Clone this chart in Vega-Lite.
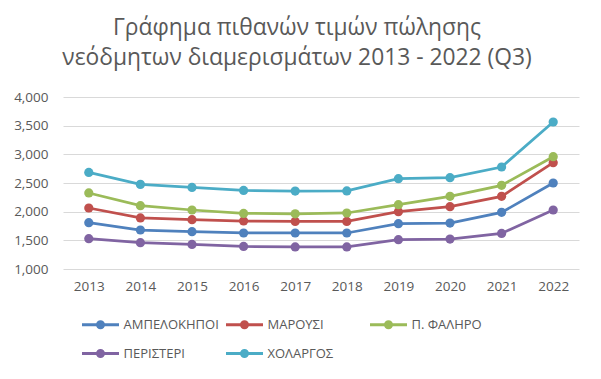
{
  "$schema": "https://vega.github.io/schema/vega-lite/v6.json",
  "width": 516,
  "height": 172,
  "autosize": "none",
  "padding": {"left": 63, "top": 97, "right": 22, "bottom": 110},
  "background": "white",
  "title": {
    "text": ["Γράφημα πιθανών τιμών πώλησης", "νεόδμητων διαμερισμάτων 2013 - 2022 (Q3)"],
    "anchor": "middle",
    "dx": -24,
    "offset": 20,
    "font": "Open Sans",
    "fontSize": 22.8,
    "fontWeight": "normal",
    "color": "#595959",
    "lineHeight": 30
  },
  "data": {
    "values": [
      {"year": "2013", "area": "ΑΜΠΕΛΟΚΗΠΟΙ", "price": 1808},
      {"year": "2014", "area": "ΑΜΠΕΛΟΚΗΠΟΙ", "price": 1680},
      {"year": "2015", "area": "ΑΜΠΕΛΟΚΗΠΟΙ", "price": 1651},
      {"year": "2016", "area": "ΑΜΠΕΛΟΚΗΠΟΙ", "price": 1628},
      {"year": "2017", "area": "ΑΜΠΕΛΟΚΗΠΟΙ", "price": 1628},
      {"year": "2018", "area": "ΑΜΠΕΛΟΚΗΠΟΙ", "price": 1628},
      {"year": "2019", "area": "ΑΜΠΕΛΟΚΗΠΟΙ", "price": 1790},
      {"year": "2020", "area": "ΑΜΠΕΛΟΚΗΠΟΙ", "price": 1802},
      {"year": "2021", "area": "ΑΜΠΕΛΟΚΗΠΟΙ", "price": 1988},
      {"year": "2022", "area": "ΑΜΠΕΛΟΚΗΠΟΙ", "price": 2500},
      {"year": "2013", "area": "ΜΑΡΟΥΣΙ", "price": 2064},
      {"year": "2014", "area": "ΜΑΡΟΥΣΙ", "price": 1890},
      {"year": "2015", "area": "ΜΑΡΟΥΣΙ", "price": 1860},
      {"year": "2016", "area": "ΜΑΡΟΥΣΙ", "price": 1837},
      {"year": "2017", "area": "ΜΑΡΟΥΣΙ", "price": 1830},
      {"year": "2018", "area": "ΜΑΡΟΥΣΙ", "price": 1830},
      {"year": "2019", "area": "ΜΑΡΟΥΣΙ", "price": 2000},
      {"year": "2020", "area": "ΜΑΡΟΥΣΙ", "price": 2087},
      {"year": "2021", "area": "ΜΑΡΟΥΣΙ", "price": 2267},
      {"year": "2022", "area": "ΜΑΡΟΥΣΙ", "price": 2854},
      {"year": "2013", "area": "Π. ΦΑΛΗΡΟ", "price": 2326},
      {"year": "2014", "area": "Π. ΦΑΛΗΡΟ", "price": 2104},
      {"year": "2015", "area": "Π. ΦΑΛΗΡΟ", "price": 2029},
      {"year": "2016", "area": "Π. ΦΑΛΗΡΟ", "price": 1970},
      {"year": "2017", "area": "Π. ΦΑΛΗΡΟ", "price": 1962},
      {"year": "2018", "area": "Π. ΦΑΛΗΡΟ", "price": 1977},
      {"year": "2019", "area": "Π. ΦΑΛΗΡΟ", "price": 2122},
      {"year": "2020", "area": "Π. ΦΑΛΗΡΟ", "price": 2267},
      {"year": "2021", "area": "Π. ΦΑΛΗΡΟ", "price": 2459},
      {"year": "2022", "area": "Π. ΦΑΛΗΡΟ", "price": 2959},
      {"year": "2013", "area": "ΠΕΡΙΣΤΕΡΙ", "price": 1529},
      {"year": "2014", "area": "ΠΕΡΙΣΤΕΡΙ", "price": 1459},
      {"year": "2015", "area": "ΠΕΡΙΣΤΕΡΙ", "price": 1429},
      {"year": "2016", "area": "ΠΕΡΙΣΤΕΡΙ", "price": 1394},
      {"year": "2017", "area": "ΠΕΡΙΣΤΕΡΙ", "price": 1384},
      {"year": "2018", "area": "ΠΕΡΙΣΤΕΡΙ", "price": 1384},
      {"year": "2019", "area": "ΠΕΡΙΣΤΕΡΙ", "price": 1511},
      {"year": "2020", "area": "ΠΕΡΙΣΤΕΡΙ", "price": 1522},
      {"year": "2021", "area": "ΠΕΡΙΣΤΕΡΙ", "price": 1621},
      {"year": "2022", "area": "ΠΕΡΙΣΤΕΡΙ", "price": 2029},
      {"year": "2013", "area": "ΧΟΛΑΡΓΟΣ", "price": 2685},
      {"year": "2014", "area": "ΧΟΛΑΡΓΟΣ", "price": 2476},
      {"year": "2015", "area": "ΧΟΛΑΡΓΟΣ", "price": 2423},
      {"year": "2016", "area": "ΧΟΛΑΡΓΟΣ", "price": 2371},
      {"year": "2017", "area": "ΧΟΛΑΡΓΟΣ", "price": 2360},
      {"year": "2018", "area": "ΧΟΛΑΡΓΟΣ", "price": 2362},
      {"year": "2019", "area": "ΧΟΛΑΡΓΟΣ", "price": 2575},
      {"year": "2020", "area": "ΧΟΛΑΡΓΟΣ", "price": 2593},
      {"year": "2021", "area": "ΧΟΛΑΡΓΟΣ", "price": 2779},
      {"year": "2022", "area": "ΧΟΛΑΡΓΟΣ", "price": 3564}
    ]
  },
  "mark": {"type": "line", "strokeWidth": 2.75, "point": {"filled": true, "size": 85}},
  "encoding": {
    "x": {
      "field": "year",
      "type": "ordinal",
      "scale": {"type": "point", "padding": 0.5},
      "axis": {
        "title": null,
        "labelAngle": 0,
        "domain": false,
        "ticks": false,
        "grid": false,
        "labelPadding": 10,
        "labelFont": "Open Sans",
        "labelFontSize": 13.5,
        "labelColor": "#595959"
      }
    },
    "y": {
      "field": "price",
      "type": "quantitative",
      "scale": {"domain": [1000, 4000], "nice": false, "zero": false},
      "axis": {
        "title": null,
        "values": [1000, 1500, 2000, 2500, 3000, 3500, 4000],
        "format": ",.0f",
        "domain": false,
        "ticks": false,
        "grid": true,
        "gridColor": "#d9d9d9",
        "gridWidth": 1,
        "labelPadding": 15,
        "labelFont": "Open Sans",
        "labelFontSize": 13.5,
        "labelColor": "#595959"
      }
    },
    "color": {
      "field": "area",
      "type": "nominal",
      "scale": {
        "domain": ["ΑΜΠΕΛΟΚΗΠΟΙ", "ΜΑΡΟΥΣΙ", "Π. ΦΑΛΗΡΟ", "ΠΕΡΙΣΤΕΡΙ", "ΧΟΛΑΡΓΟΣ"],
        "range": ["#4F81BD", "#C0504D", "#9BBB59", "#8064A2", "#4BACC6"]
      },
      "legend": {
        "title": null,
        "orient": "none",
        "legendX": 31,
        "legendY": 221,
        "direction": "horizontal",
        "columns": 3,
        "gridAlign": "all",
        "columnPadding": 1,
        "rowPadding": 10,
        "symbolType": "M-3.7,0L3.7,0M-0.6,0A0.6,0.6,0,1,1,0.6,0A0.6,0.6,0,1,1,-0.6,0Z",
        "symbolSize": 100,
        "symbolStrokeWidth": 3,
        "labelOffset": 16.5,
        "labelFont": "Open Sans",
        "labelFontSize": 13,
        "labelColor": "#595959",
        "labelLimit": 200,
        "encode": {
          "symbols": {
            "update": {
              "fill": {"scale": "color", "field": "value"},
              "stroke": {"scale": "color", "field": "value"}
            }
          }
        }
      }
    }
  },
  "config": {"view": {"stroke": null}}
}
